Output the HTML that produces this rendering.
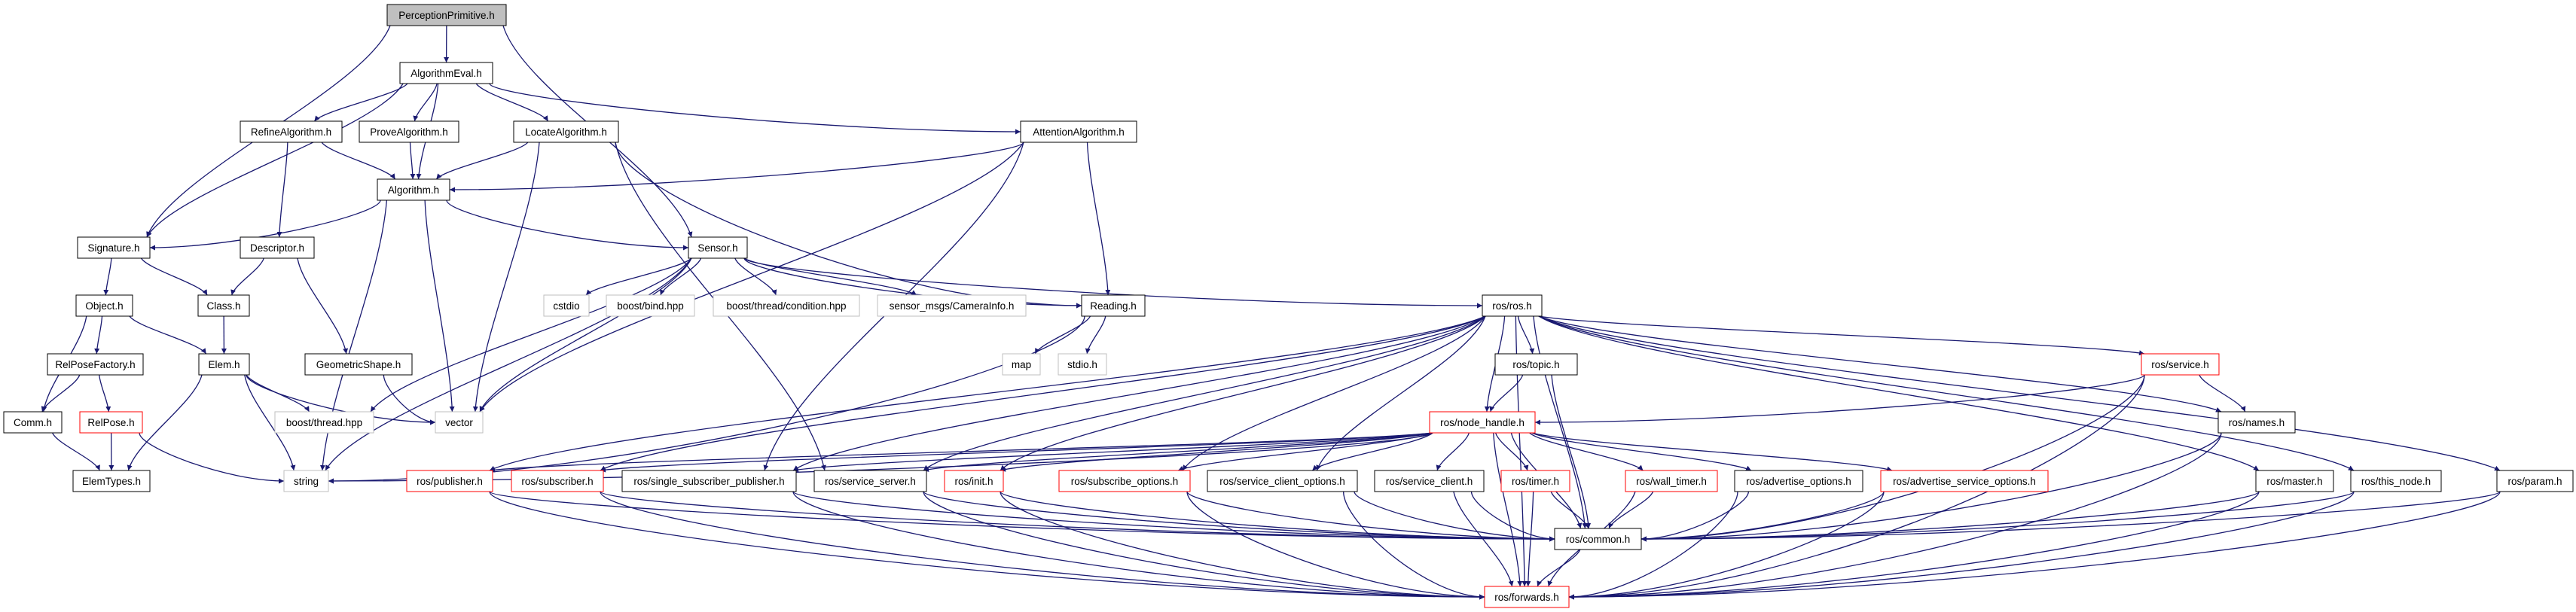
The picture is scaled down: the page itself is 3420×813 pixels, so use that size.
<!DOCTYPE html>
<html><head><meta charset="utf-8"><style>
html,body{margin:0;padding:0;background:#fff;width:3420px;height:813px;overflow:hidden}
svg{position:absolute;left:0;top:0}
text{font-family:"Liberation Sans",sans-serif;font-size:13.5px;fill:#000}
</style></head><body>
<svg id="s" width="3420" height="813" xmlns="http://www.w3.org/2000/svg">
<defs><marker id="a" viewBox="0 0 10 10" refX="10" refY="5" markerWidth="7" markerHeight="7" orient="auto" markerUnits="userSpaceOnUse"><path d="M0,0 L10,5 L0,10 z" fill="#191970"/></marker></defs>
<g id="e" fill="none" stroke="#191970" stroke-width="1.3"></g>
<g id="n">
<rect x="514" y="6" width="158" height="28" fill="#bfbfbf" stroke="#000"/><text x="593" y="25" text-anchor="middle">PerceptionPrimitive.h</text>
<rect x="531" y="83" width="123" height="28" fill="#fff" stroke="#000"/><text x="592.5" y="102" text-anchor="middle">AlgorithmEval.h</text>
<rect x="319" y="161" width="135" height="28" fill="#fff" stroke="#000"/><text x="386.5" y="180" text-anchor="middle">RefineAlgorithm.h</text>
<rect x="477" y="161" width="132" height="28" fill="#fff" stroke="#000"/><text x="543" y="180" text-anchor="middle">ProveAlgorithm.h</text>
<rect x="682" y="161" width="139" height="28" fill="#fff" stroke="#000"/><text x="751.5" y="180" text-anchor="middle">LocateAlgorithm.h</text>
<rect x="1355" y="161" width="154" height="28" fill="#fff" stroke="#000"/><text x="1432" y="180" text-anchor="middle">AttentionAlgorithm.h</text>
<rect x="501" y="238" width="96" height="28" fill="#fff" stroke="#000"/><text x="549" y="257" text-anchor="middle">Algorithm.h</text>
<rect x="103" y="315" width="96" height="28" fill="#fff" stroke="#000"/><text x="151" y="334" text-anchor="middle">Signature.h</text>
<rect x="319" y="315" width="98" height="28" fill="#fff" stroke="#000"/><text x="368" y="334" text-anchor="middle">Descriptor.h</text>
<rect x="914" y="315" width="78" height="28" fill="#fff" stroke="#000"/><text x="953" y="334" text-anchor="middle">Sensor.h</text>
<rect x="101" y="392" width="75" height="28" fill="#fff" stroke="#000"/><text x="138.5" y="411" text-anchor="middle">Object.h</text>
<rect x="263" y="392" width="68" height="28" fill="#fff" stroke="#000"/><text x="297" y="411" text-anchor="middle">Class.h</text>
<rect x="722" y="392" width="60" height="28" fill="#fff" stroke="#bfbfbf"/><text x="752" y="411" text-anchor="middle">cstdio</text>
<rect x="805" y="392" width="117" height="28" fill="#fff" stroke="#bfbfbf"/><text x="863.5" y="411" text-anchor="middle">boost/bind.hpp</text>
<rect x="947" y="392" width="194" height="28" fill="#fff" stroke="#bfbfbf"/><text x="1044" y="411" text-anchor="middle">boost/thread/condition.hpp</text>
<rect x="1165" y="392" width="197" height="28" fill="#fff" stroke="#bfbfbf"/><text x="1263.5" y="411" text-anchor="middle">sensor_msgs/CameraInfo.h</text>
<rect x="1436" y="392" width="84" height="28" fill="#fff" stroke="#000"/><text x="1478" y="411" text-anchor="middle">Reading.h</text>
<rect x="1968" y="392" width="79" height="28" fill="#fff" stroke="#000"/><text x="2007.5" y="411" text-anchor="middle">ros/ros.h</text>
<rect x="264" y="470" width="67" height="28" fill="#fff" stroke="#000"/><text x="297.5" y="489" text-anchor="middle">Elem.h</text>
<rect x="63" y="470" width="127" height="28" fill="#fff" stroke="#000"/><text x="126.5" y="489" text-anchor="middle">RelPoseFactory.h</text>
<rect x="405" y="470" width="142" height="28" fill="#fff" stroke="#000"/><text x="476" y="489" text-anchor="middle">GeometricShape.h</text>
<rect x="1331" y="470" width="50" height="28" fill="#fff" stroke="#bfbfbf"/><text x="1356" y="489" text-anchor="middle">map</text>
<rect x="1405" y="470" width="64" height="28" fill="#fff" stroke="#bfbfbf"/><text x="1437" y="489" text-anchor="middle">stdio.h</text>
<rect x="1985" y="470" width="109" height="28" fill="#fff" stroke="#000"/><text x="2039.5" y="489" text-anchor="middle">ros/topic.h</text>
<rect x="2843" y="470" width="103" height="28" fill="#fff" stroke="#f00"/><text x="2894.5" y="489" text-anchor="middle">ros/service.h</text>
<rect x="5" y="547" width="77" height="28" fill="#fff" stroke="#000"/><text x="43.5" y="566" text-anchor="middle">Comm.h</text>
<rect x="106" y="547" width="83" height="28" fill="#fff" stroke="#f00"/><text x="147.5" y="566" text-anchor="middle">RelPose.h</text>
<rect x="365" y="547" width="131" height="28" fill="#fff" stroke="#bfbfbf"/><text x="430.5" y="566" text-anchor="middle">boost/thread.hpp</text>
<rect x="578" y="547" width="63" height="28" fill="#fff" stroke="#bfbfbf"/><text x="609.5" y="566" text-anchor="middle">vector</text>
<rect x="1898" y="547" width="140" height="28" fill="#fff" stroke="#f00"/><text x="1968" y="566" text-anchor="middle">ros/node_handle.h</text>
<rect x="2945" y="547" width="102" height="28" fill="#fff" stroke="#000"/><text x="2996" y="566" text-anchor="middle">ros/names.h</text>
<rect x="97" y="625" width="102" height="28" fill="#fff" stroke="#000"/><text x="148" y="644" text-anchor="middle">ElemTypes.h</text>
<rect x="377" y="625" width="59" height="28" fill="#fff" stroke="#bfbfbf"/><text x="406.5" y="644" text-anchor="middle">string</text>
<rect x="540" y="625" width="114" height="28" fill="#fff" stroke="#f00"/><text x="597" y="644" text-anchor="middle">ros/publisher.h</text>
<rect x="679" y="625" width="122" height="28" fill="#fff" stroke="#f00"/><text x="740" y="644" text-anchor="middle">ros/subscriber.h</text>
<rect x="826" y="625" width="231" height="28" fill="#fff" stroke="#000"/><text x="941.5" y="644" text-anchor="middle">ros/single_subscriber_publisher.h</text>
<rect x="1081" y="625" width="149" height="28" fill="#fff" stroke="#000"/><text x="1155.5" y="644" text-anchor="middle">ros/service_server.h</text>
<rect x="1254" y="625" width="78" height="28" fill="#fff" stroke="#f00"/><text x="1293" y="644" text-anchor="middle">ros/init.h</text>
<rect x="1406" y="625" width="174" height="28" fill="#fff" stroke="#f00"/><text x="1493" y="644" text-anchor="middle">ros/subscribe_options.h</text>
<rect x="1603" y="625" width="199" height="28" fill="#fff" stroke="#000"/><text x="1702.5" y="644" text-anchor="middle">ros/service_client_options.h</text>
<rect x="1825" y="625" width="145" height="28" fill="#fff" stroke="#000"/><text x="1897.5" y="644" text-anchor="middle">ros/service_client.h</text>
<rect x="1993" y="625" width="91" height="28" fill="#fff" stroke="#f00"/><text x="2038.5" y="644" text-anchor="middle">ros/timer.h</text>
<rect x="2158" y="625" width="122" height="28" fill="#fff" stroke="#f00"/><text x="2219" y="644" text-anchor="middle">ros/wall_timer.h</text>
<rect x="2303" y="625" width="170" height="28" fill="#fff" stroke="#000"/><text x="2388" y="644" text-anchor="middle">ros/advertise_options.h</text>
<rect x="2497" y="625" width="222" height="28" fill="#fff" stroke="#f00"/><text x="2608" y="644" text-anchor="middle">ros/advertise_service_options.h</text>
<rect x="2995" y="625" width="103" height="28" fill="#fff" stroke="#000"/><text x="3046.5" y="644" text-anchor="middle">ros/master.h</text>
<rect x="3121" y="625" width="120" height="28" fill="#fff" stroke="#000"/><text x="3181" y="644" text-anchor="middle">ros/this_node.h</text>
<rect x="3315" y="625" width="101" height="28" fill="#fff" stroke="#000"/><text x="3365.5" y="644" text-anchor="middle">ros/param.h</text>
<rect x="2064" y="702" width="115" height="28" fill="#fff" stroke="#000"/><text x="2121.5" y="721" text-anchor="middle">ros/common.h</text>
<rect x="1971" y="779" width="112" height="28" fill="#fff" stroke="#f00"/><text x="2027" y="798" text-anchor="middle">ros/forwards.h</text>
</g>
</svg>
<script>
var N={PP:[514,672,6],AE:[531,654,83],RA:[319,454,161],PA:[477,609,161],LA:[682,821,161],AA:[1355,1509,161],AL:[501,597,238],SIG:[103,199,315],DE:[319,417,315],SEN:[914,992,315],OBJ:[101,176,392],CLS:[263,331,392],CST:[722,782,392],BB:[805,922,392],CON:[947,1141,392],CAM:[1165,1362,392],RD:[1436,1520,392],ROS:[1968,2047,392],EL:[264,331,470],RPF:[63,190,470],GEO:[405,547,470],MAP:[1331,1381,470],STD:[1405,1469,470],TOP:[1985,2094,470],SRV:[2843,2946,470],COMM:[5,82,547],RP:[106,189,547],BT:[365,496,547],VEC:[578,641,547],NH:[1898,2038,547],NAM:[2945,3047,547],ET:[97,199,625],STR:[377,436,625],PUB:[540,654,625],SUB:[679,801,625],SSP:[826,1057,625],SS:[1081,1230,625],INIT:[1254,1332,625],SO:[1406,1580,625],SCO:[1603,1802,625],SC:[1825,1970,625],TIM:[1993,2084,625],WT:[2158,2280,625],AO:[2303,2473,625],ASO:[2497,2719,625],MAS:[2995,3098,625],THN:[3121,3241,625],PAR:[3315,3416,625],COM:[2064,2179,702],FWD:[1971,2083,779]};
var E="PP>AE PP>SIG PP>SEN AE>SIG AE>RA AE>PA AE>AL AE>LA AE>AA RA>AL RA>DE PA>AL LA>AL LA>VEC LA>RD LA>SS AA>AL AA>VEC AA>RD AA>SSP AL>SIG AL>STR AL>VEC AL>SEN SIG>OBJ SIG>CLS DE>CLS DE>GEO OBJ>COMM OBJ>RPF OBJ>EL CLS>EL EL>ET EL>STR EL>BT EL>VEC RPF>COMM RPF>RP COMM>ET RP>ET RP>STR GEO>VEC SEN>BT SEN>STR SEN>VEC SEN>CST SEN>BB SEN>CON SEN>CAM SEN>RD SEN>ROS RD>MAP RD>STD RD>STR ROS>PUB ROS>SUB ROS>SSP ROS>SS ROS>INIT ROS>SO ROS>SCO ROS>NH ROS>TOP ROS>SRV ROS>NAM ROS>MAS ROS>THN ROS>PAR ROS>COM ROS>FWD TOP>NH TOP>COM NH>PUB NH>SUB NH>SSP NH>SS NH>INIT NH>SO NH>SCO NH>SC NH>TIM NH>WT NH>AO NH>ASO NH>COM NH>FWD NH>STR SRV>NH SRV>NAM SRV>COM SRV>FWD NAM>COM NAM>FWD PUB>COM PUB>FWD SUB>COM SUB>FWD SSP>COM SSP>FWD SS>COM SS>FWD INIT>COM INIT>FWD SO>COM SO>FWD SCO>COM SCO>FWD SC>COM SC>FWD TIM>COM TIM>FWD WT>COM WT>FWD AO>COM AO>FWD ASO>COM ASO>FWD MAS>COM MAS>FWD THN>COM THN>FWD PAR>COM PAR>FWD COM>FWD".split(" ");
var SIDE={COM:1,FWD:1,STR:1,VEC:1,"AE>AA":1,"AL>SIG":1,"SEN>ROS":1,"SEN>RD":1,"AA>AL":1,"SRV>NH":1,"AL>SEN":1,"LA>RD":1};
var g=document.getElementById("e"),h=28,out="";
function cl(v,a,b){return Math.max(a+4,Math.min(b-4,v));}
E.forEach(function(s){var p=s.split(">"),A=N[p[0]],B=N[p[1]];
var ac=(A[0]+A[1])/2,bc=(B[0]+B[1])/2,sx,sy,tx,ty,d;
sy=A[2]+h;sx=cl(ac+(bc-ac)*0.25,A[0],A[1]);
var hd=Math.abs(bc-ac),vd=B[2]-sy;
if((SIDE[p[1]]||SIDE[s]) && hd>2.5*vd && hd>(B[1]-B[0])/2+40){
 tx=bc>ac?B[0]:B[1];ty=B[2]+h/2;
 var dy=ty-sy;
 d="M"+sx+","+sy+" C"+sx+","+(sy+dy*0.3)+" "+(sx+(tx-sx)*0.6)+","+ty+" "+tx+","+ty;}
else{tx=cl(bc+(ac-bc)*0.15,B[0],B[1]);ty=B[2];
 var dy=ty-sy;d="M"+sx+","+sy+" C"+(sx+(tx-sx)*0.1)+","+(sy+dy*0.3)+" "+(tx-(tx-sx)*0.1)+","+(ty-dy*0.3)+" "+tx+","+ty;}
out+='<path d="'+d+'" marker-end="url(#a)"/>';});
g.innerHTML=out;
</script>
</body></html>
